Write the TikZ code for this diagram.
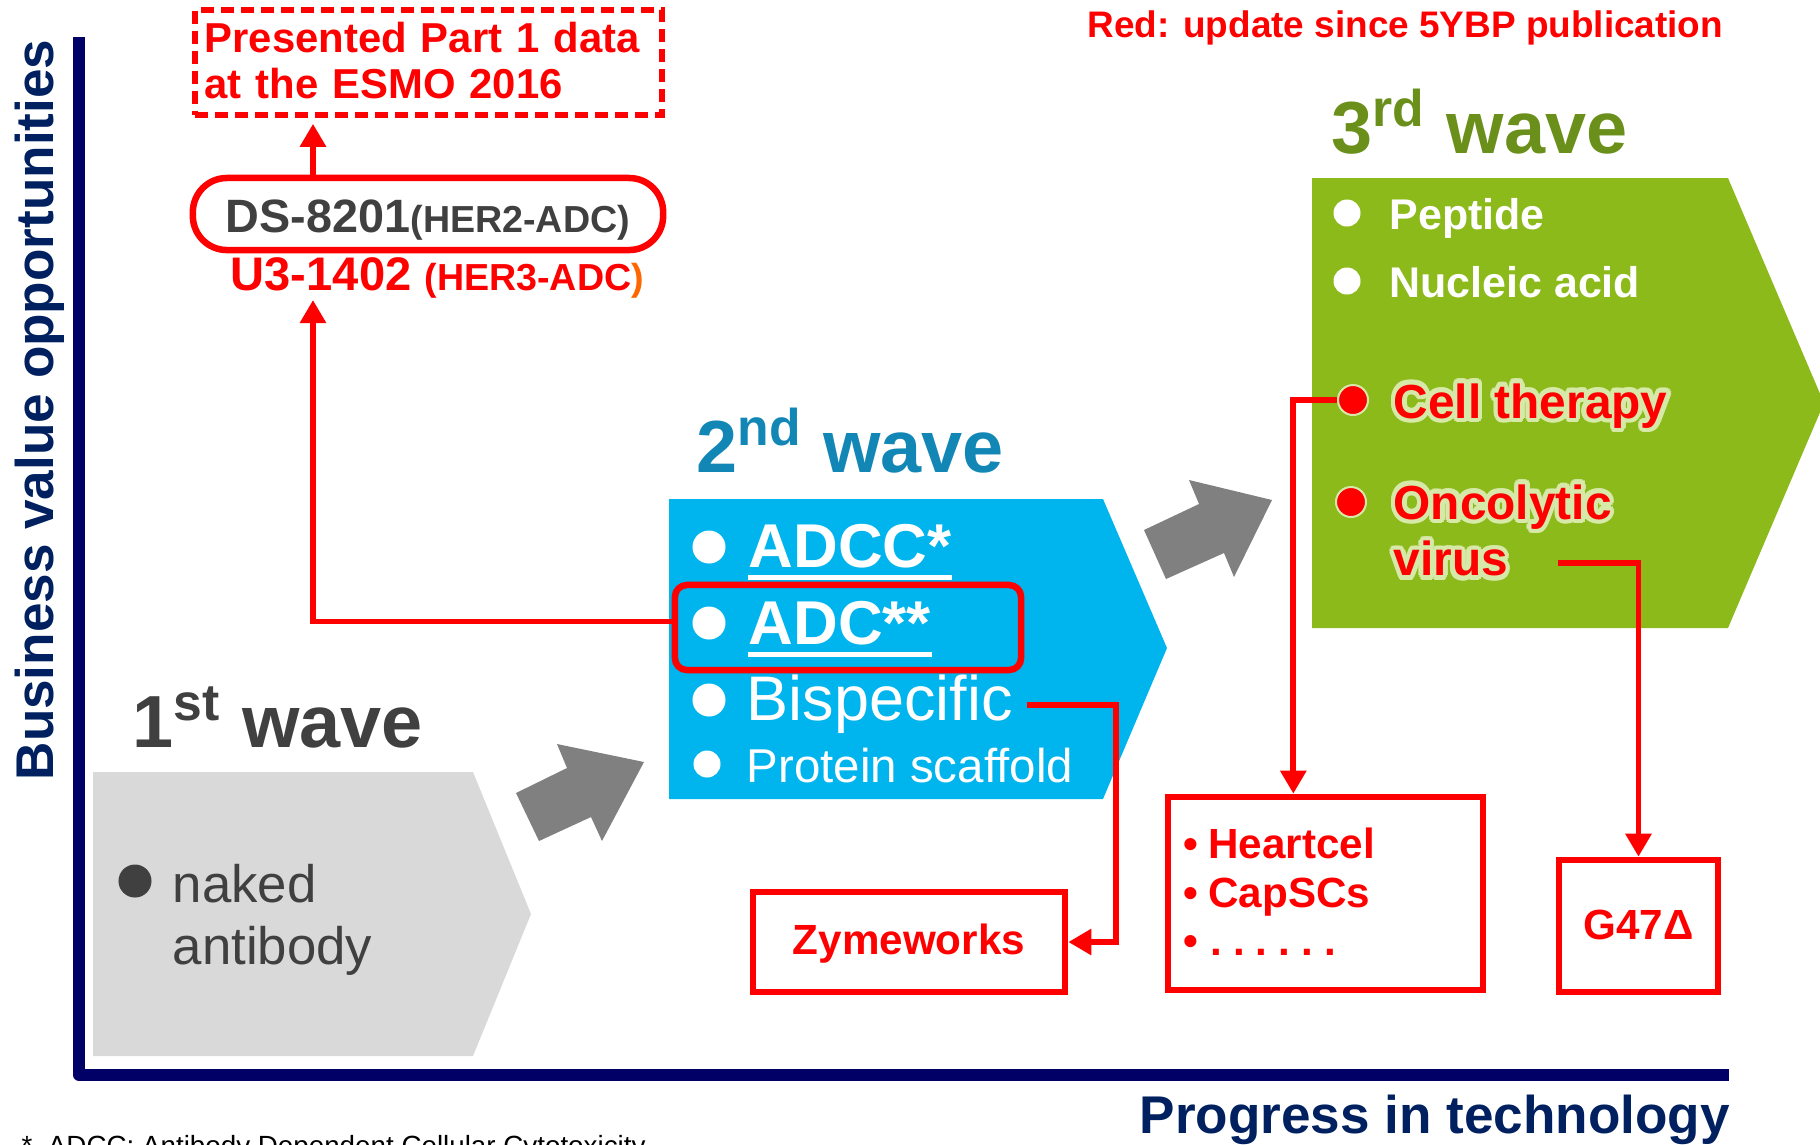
\documentclass[tikz,border=0pt]{standalone}
\usepackage{fontspec}
\setmainfont{Liberation Sans}
\usepackage{contour}
\usetikzlibrary{arrows.meta,calc}
\definecolor{axisnavy} {HTML}{000066}
\definecolor{labelnavy}{HTML}{002060}
\definecolor{inkgray}  {HTML}{404040}
\definecolor{wavegray} {HTML}{D9D9D9}
\definecolor{arrowgray}{HTML}{808080}
\definecolor{wavecyan} {HTML}{1287B6}
\definecolor{boxcyan}  {HTML}{00B4ED}
\definecolor{waveolive}{HTML}{6B8F1B}
\definecolor{boxgreen} {HTML}{8DBA1B}
\definecolor{newred}   {HTML}{FF0000}
\definecolor{parorange}{HTML}{FF6600}
\definecolor{glowgreen}{HTML}{D6E9A8}
\contourlength{1.3pt}
\tikzset{
  wavetitle/.style ={anchor=base west, inner sep=0pt,
                     font=\fontsize{21pt}{24pt}\selectfont\bfseries},
  itemtext/.style  ={anchor=base west, inner sep=0pt},
  dotitem/.style   ={circle, fill=white, inner sep=0pt, minimum size=0.33cm},
  redbox/.style    ={draw=newred, line width=0.065cm, inner sep=0pt, text=newred,
                     font=\fontsize{12pt}{14pt}\selectfont\bfseries},
  redarr/.style    ={-{Triangle[length=0.23cm,width=0.25cm]}, line width=0.058cm,
                     color=newred},
  fatarrow/.style  ={fill=arrowgray},
  underbar/.style  ={white, line width=0.05cm},
}
\begin{document}
\begin{tikzpicture}[x=0.01cm,y=-0.01cm]
    \useasboundingbox (0,0) rectangle (1820,1144);
    \clip (0,0) rectangle (1820,1144);

    % Axes and their labels
    \draw[axisnavy, line width=0.12cm, line join=round] (79,37) -- (79,1075) -- (1729,1075);
    \node[rotate=90, anchor=base, inner sep=0pt, text=labelnavy,
          font=\fontsize{15.1pt}{17pt}\selectfont\bfseries] (yaxis) at (54,410)
      {Business value opportunities};
    \node[itemtext, text=labelnavy, font=\fontsize{15.1pt}{17pt}\selectfont\bfseries]
      (xaxis) at (1139,1133) {Progress in technology};
    \node[itemtext, text=black, font=\fontsize{7.9pt}{9pt}\selectfont] (footnote)
      at (21,1155) {*\ \ ADCC: Antibody Dependent Cellular Cytotoxicity};
    \node[itemtext, text=newred, font=\fontsize{10.5pt}{12pt}\selectfont\bfseries] (legend)
      at (1087,37) {Red: update since 5YBP publication};

    % 1st wave
    \fill[wavegray] (93,772) -- (473,772) -- (531,914) -- (473,1056) -- (93,1056) -- cycle;
    \node[wavetitle, text=inkgray] (wave1) at (132,747) {1\textsuperscript{st} wave};
    \node[dotitem, fill=inkgray] (nakeddot) at (135,881) {};
    \node[itemtext, text=inkgray, text width=4cm, align=left,
          font=\fontsize{15pt}{17.9pt}\selectfont] (naked) at (172,902)
      {naked\\antibody};
    \fill[fatarrow] (516,793) -- (567,768) -- (557,744) -- (644,762) -- (602,841)
      -- (591,817) -- (539,841) -- cycle;

    % 2nd wave
    \fill[boxcyan] (669,499) -- (1103,499) -- (1167,648) -- (1103,799) -- (669,799) -- cycle;
    \node[wavetitle, text=wavecyan] (wave2) at (696,472) {2\textsuperscript{nd} wave};
    \node[dotitem] (adccdot) at (709,547) {};
    \node[itemtext, text=white, font=\fontsize{17.6pt}{20pt}\selectfont\bfseries] (adcc)
      at (748,567) {ADCC*};
    \draw[underbar] ($(adcc.base west)+(0,10)$) -- ($(adcc.base east)+(0,10)$);
    \node[dotitem] (adcdot) at (709,623) {};
    \node[itemtext, text=white, font=\fontsize{17.6pt}{20pt}\selectfont\bfseries] (adc)
      at (748,644) {ADC**};
    \draw[underbar] ($(adc.base west)+(0,10.5)$) -- ($(adc.base east)+(0,10.5)$);
    \node[dotitem] (bispdot) at (709,700) {};
    \node[itemtext, text=white, font=\fontsize{17.9pt}{20pt}\selectfont] (bisp)
      at (746,720) {Bispecific};
    \node[dotitem, minimum size=0.27cm] (protdot) at (707,764) {};
    \node[itemtext, text=white, font=\fontsize{13.5pt}{16pt}\selectfont] (prot)
      at (746,782) {Protein scaffold};
    \node[draw=newred, line width=0.065cm, rounded corners=0.12cm,
          minimum width=3.46cm, minimum height=0.85cm] (adcbox) at (848,627.5) {};
    \fill[fatarrow] (1144,530) -- (1199,504) -- (1189,480) -- (1272,500) -- (1234,577)
      -- (1224,553) -- (1166,579) -- cycle;

    % 3rd wave
    \fill[boxgreen] (1312,178) -- (1728,178) -- (1824,403) -- (1728,628) -- (1312,628) -- cycle;
    \node[wavetitle, text=waveolive] (wave3) at (1331,153) {3\textsuperscript{rd} wave};
    \node[dotitem, minimum size=0.27cm] (peptdot) at (1347,213) {};
    \node[itemtext, text=white, font=\fontsize{12.2pt}{14pt}\selectfont\bfseries] (pept)
      at (1389,229) {Peptide};
    \node[dotitem, minimum size=0.27cm] (nucldot) at (1347,281) {};
    \node[itemtext, text=white, font=\fontsize{12.2pt}{14pt}\selectfont\bfseries] (nucl)
      at (1389,297) {Nucleic acid};
    \node[dotitem, fill=newred, draw=glowgreen, line width=0.02cm, minimum size=0.30cm]
      (celldot) at (1353,400) {};
    \node[itemtext, text=newred, font=\fontsize{13.6pt}{16pt}\selectfont\bfseries] (cell)
      at (1393,418) {\contour{glowgreen}{Cell therapy}};
    \node[dotitem, fill=newred, draw=glowgreen, line width=0.02cm, minimum size=0.30cm]
      (oncodot) at (1351,502) {};
    \node[itemtext, text=newred, text width=3cm, align=left,
          font=\fontsize{13.6pt}{16.2pt}\selectfont\bfseries] (onco) at (1393,519)
      {\contour{glowgreen}{Oncolytic}\\\contour{glowgreen}{virus}};

    % Updates: ESMO and ADC products
    \node[draw=newred, line width=0.055cm, dash pattern=on 0.13cm off 0.07cm,
          minimum width=4.67cm, minimum height=1.05cm, inner sep=0pt] (esmo) at (428.5,62.5) {};
    \node[itemtext, text=newred, text width=4.5cm, align=left,
          font=\fontsize{11.9pt}{13.3pt}\selectfont\bfseries] (esmotext) at (204,52)
      {Presented Part 1 data\\at the ESMO 2016};
    \node[draw=newred, line width=0.065cm, rounded corners=0.34cm, minimum width=4.7cm,
          minimum height=0.72cm, inner sep=0pt, text=inkgray, text height=0.36cm,
          text depth=0cm, font=\bfseries] (ds8201) at (428,214)
      {{\fontsize{13.3pt}{15pt}\selectfont DS-8201}{\fontsize{10.7pt}{12pt}\selectfont(HER2-ADC)}};
    \node[itemtext, text=newred, font=\bfseries] (u31402) at (230,290)
      {{\fontsize{13.4pt}{15pt}\selectfont U3-1402 }{\fontsize{10.7pt}{12pt}\selectfont(HER3-ADC\textcolor{parorange}{)}}};
    \coordinate (adcup) at (313,300);
    \draw[redarr] ($(adcbox.west)+(0,-6)$) -| (adcup);
    \draw[redarr] (ds8201.north -| adcup) -- ($(esmo.south -| adcup)+(0,6)$);

    % Updates: product boxes
    \node[redbox, minimum width=3.12cm, minimum height=1.0cm, text height=0.25cm,
          text depth=0cm] (zyme) at (909,942) {Zymeworks};
    \draw[redarr] ($(bisp.base east)+(14,-15)$) -| ($(zyme.east)+(48,0)$) -- (zyme.east);
    \node[draw=newred, line width=0.065cm, minimum width=3.15cm, minimum height=1.93cm,
          inner sep=0pt] (heartbox) at (1325.5,893.5) {};
    \node[itemtext, text=newred, text width=2.8cm, align=left,
          font=\fontsize{12pt}{14.2pt}\selectfont\bfseries] (heartlist) at (1183,858)
      {\textbullet\hspace{0.1cm}Heartcel\\\textbullet\hspace{0.1cm}CapSCs\\[-0.6pt]%
       \textbullet\hspace{0.12cm}.\hspace{0.11cm}.\hspace{0.11cm}.\hspace{0.11cm}.\hspace{0.11cm}.\hspace{0.11cm}.};
    \draw[redarr] (celldot.west) -| ($(heartbox.north west)!0.4!(heartbox.north east)$);
    \node[redbox, minimum width=1.59cm, minimum height=1.32cm, text height=0.26cm,
          text depth=0cm] (g47box) at (1638.5,926) {G47Δ};
    \coordinate (virusend) at (1558,563);
    \draw[redarr] (virusend) -| (g47box.north);
\end{tikzpicture}
\end{document}
